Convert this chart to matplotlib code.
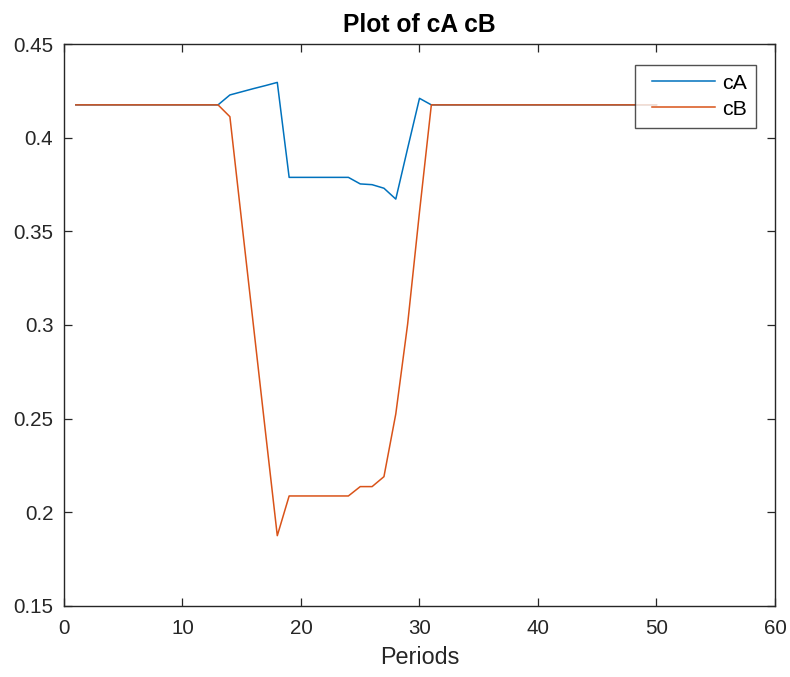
import matplotlib
matplotlib.use("Agg")
import matplotlib.pyplot as plt
from matplotlib.lines import Line2D
from matplotlib.legend_handler import HandlerLine2D

# Periods and the two concentration series
periods = list(range(1, 51))

cA_window = [0.4175, 0.4228, 0.4245, 0.4262, 0.4278, 0.4295,
             0.3788, 0.3788, 0.3788, 0.3788, 0.3788, 0.3788,
             0.3753, 0.3749, 0.3730, 0.3672, 0.3943, 0.4210, 0.4175]
cB_window = [0.4175, 0.4112, 0.3550, 0.2990, 0.2430, 0.1875,
             0.2087, 0.2087, 0.2087, 0.2087, 0.2087, 0.2087,
             0.2137, 0.2137, 0.2190, 0.2525, 0.3005, 0.3603, 0.4175]
steady = 0.4175

cA = [steady] * 12 + cA_window + [steady] * (50 - 12 - len(cA_window))
cB = [steady] * 12 + cB_window + [steady] * (50 - 12 - len(cB_window))

x_ticks = [0, 10, 20, 30, 40, 50, 60]
y_ticks = [0.15, 0.2, 0.25, 0.3, 0.35, 0.4, 0.45]
y_tick_labels = ["0.15", "0.2", "0.25", "0.3", "0.35", "0.4", "0.45"]

plt.rcParams["font.family"] = ["Liberation Sans", "DejaVu Sans"]
axis_grey = (0.15, 0.15, 0.15)

fig = plt.figure(figsize=(7.9, 6.77), dpi=100)
ax = fig.add_axes([0.081, 0.105, 0.9, 0.83])

ax.plot(periods, cA, color=(0.0, 0.447, 0.741), lw=1.1, label="cA")
ax.plot(periods, cB, color=(0.85, 0.325, 0.098), lw=1.1, label="cB")

ax.set_xlim(0, 60)
ax.set_ylim(0.15, 0.45)
ax.set_xticks(x_ticks)
ax.set_yticks(y_ticks)
ax.set_yticklabels(y_tick_labels)
ax.tick_params(direction="in", top=True, right=True, length=6, width=0.9,
               colors=axis_grey, labelsize=14.8)
ax.tick_params(axis="x", pad=9.4)
ax.tick_params(axis="y", pad=7.7)
for sp in ax.spines.values():
    sp.set_color(axis_grey)
    sp.set_linewidth(1.0)

ax.set_title("Plot of cA cB", fontsize=17.7, fontweight="bold", pad=8.9)
ax.set_xlabel("Periods", fontsize=16.8, color=axis_grey, labelpad=6)

# legend sample lines are inset a little from the frame's left edge
leg = ax.legend(loc="upper right", bbox_to_anchor=(0.9733, 0.9632), fontsize=15.4,
                frameon=True, fancybox=False, edgecolor=axis_grey,
                handlelength=3.35, handletextpad=0.32, borderpad=0.42,
                labelspacing=0.33, borderaxespad=0,
                handler_map={Line2D: HandlerLine2D(xpad=0.4)})
leg.get_frame().set_linewidth(1.0)

fig.savefig("out.png", dpi=100)
